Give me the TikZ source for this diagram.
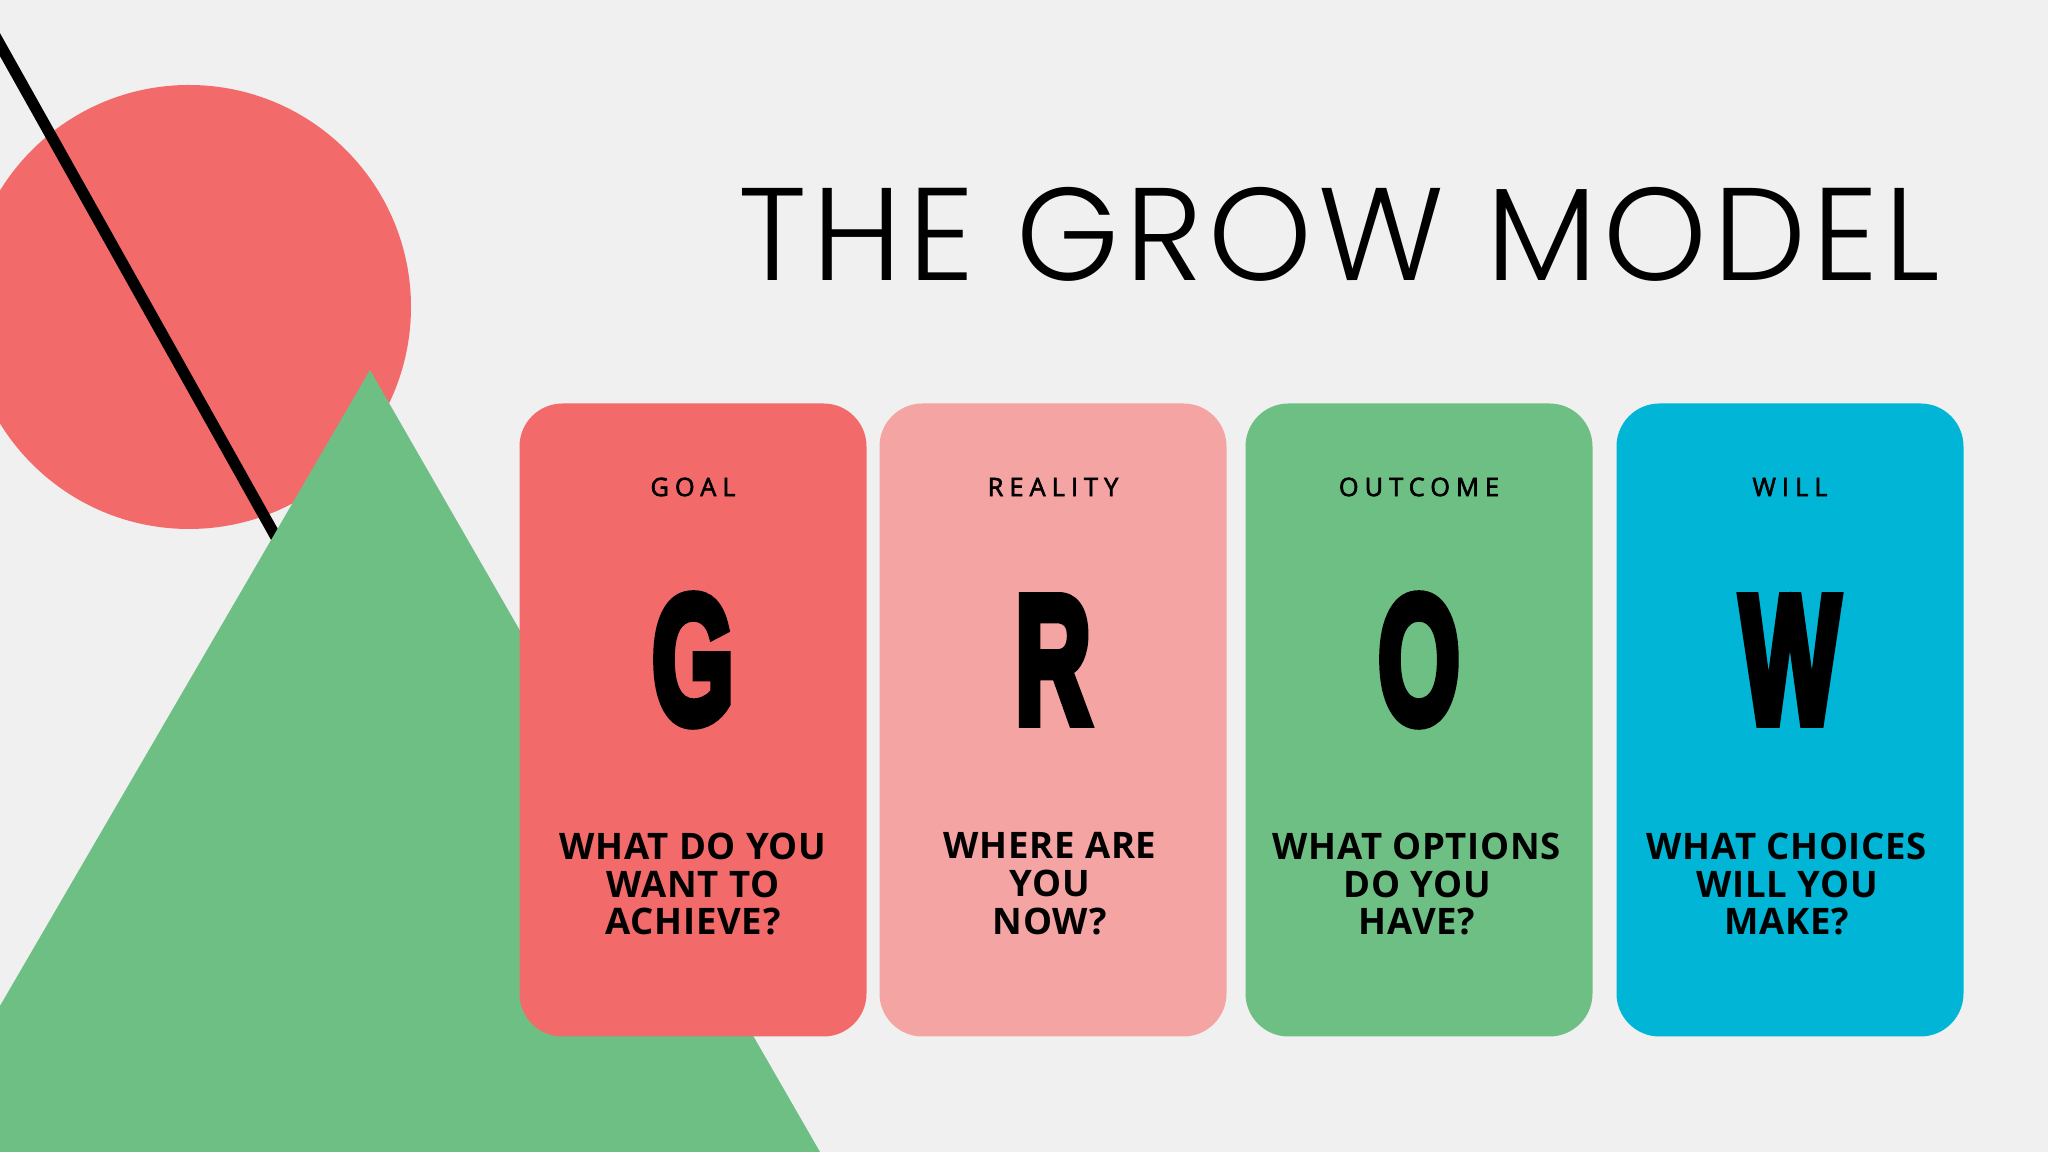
\documentclass[tikz,border=0pt]{standalone}
\usepackage{fontspec}
\usepackage{tikz}
\usetikzlibrary{positioning}
\setmainfont{Open Sans}
\newfontfamily\titlefont{Poppins Light}[LetterSpace=4.5]
\newfontfamily\tagfont{Open Sans}[LetterSpace=24, FakeBold=2.5]
\newfontfamily\questfont{Open Sans}[LetterSpace=2]
\newfontfamily\letterfont{Liberation Sans}[BoldFeatures={FakeBold=6}]

\definecolor{bgcol}{HTML}{F0F0F0}
\definecolor{goalred}{HTML}{F26A6A}
\definecolor{realpink}{HTML}{F4A4A3}
\definecolor{outgreen}{HTML}{6EBF84}
\definecolor{willblue}{HTML}{00B5D6}

\tikzset{
  card/.style={minimum width=3.47cm, minimum height=6.33cm, rounded corners=0.43cm, inner sep=0pt},
  tag/.style={font=\tagfont\fontsize{7.2}{8}\selectfont, inner sep=0pt},
  bigletter/.style={font=\letterfont\bfseries\fontsize{51.7}{52}\selectfont, inner sep=0pt},
  question/.style={font=\questfont\bfseries\fontsize{10.4}{10.8}\selectfont, align=center, inner sep=0pt}
}

\begin{document}
\begin{tikzpicture}

\useasboundingbox (0,0) rectangle (20.48,11.52);
\clip (0,0) rectangle (20.48,11.52);
\fill[bgcol] (0,0) rectangle (20.48,11.52);

% Fondo
\fill[goalred] (1.89,8.45) circle (2.22);
\draw[line width=3.2pt] (-0.2,11.43) -- (3.0,5.72);
\fill[outgreen] (3.70,7.82) -- (8.20,0) -- (-0.85,0) -- cycle;

% Titulo
\node[font=\titlefont\fontsize{37.5}{40}\selectfont, inner sep=0pt] (title) at (13.39,9.18) {THE GROW MODEL};

% Goal
\node[card, fill=goalred] (goal) at (6.93,4.32) {};
\node[tag] (goaltag) at (6.93,6.65) {GOAL};
\node[bigletter] (goalletter) at (6.93,4.92) {\scalebox{0.58}[1]{G}};
\node[question] (goalq) at (6.93,2.68) {WHAT DO YOU\\WANT TO\\ACHIEVE?};

% Reality
\node[card, fill=realpink] (reality) at (10.53,4.32) {};
\node[tag] (realitytag) at (10.53,6.65) {REALITY};
\node[bigletter] (realityletter) at (10.53,4.92) {\scalebox{0.58}[1]{R}};
\node[question] (realityq) at (10.50,2.68) {WHERE ARE\\YOU\\NOW?};

% Outcome
\node[card, fill=outgreen] (outcome) at (14.19,4.32) {};
\node[tag] (outcometag) at (14.19,6.65) {OUTCOME};
\node[bigletter] (outcomeletter) at (14.19,4.92) {\scalebox{0.58}[1]{O}};
\node[question] (outcomeq) at (14.17,2.68) {WHAT OPTIONS\\DO YOU\\HAVE?};

% Will
\node[card, fill=willblue] (will) at (17.90,4.32) {};
\node[tag] (willtag) at (17.90,6.65) {WILL};
\node[bigletter] (willletter) at (17.90,4.92) {\scalebox{0.58}[1]{W}};
\node[question] (willq) at (17.87,2.68) {WHAT CHOICES\\WILL YOU\\MAKE?};

\end{tikzpicture}
\end{document}
